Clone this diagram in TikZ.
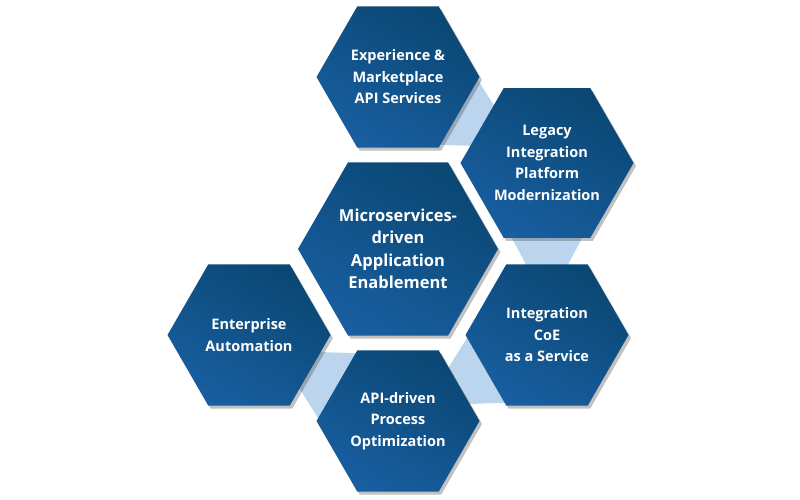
\documentclass[tikz,border=0pt]{standalone}
\usepackage{fontspec}
\setsansfont{Open Sans}
\usepackage{tikz}
\usepackage{xcolor}
\usetikzlibrary{shapes.geometric, shadows, backgrounds, calc, positioning}
\definecolor{hexTop}{HTML}{0A4773}
\definecolor{hexBottom}{HTML}{185EA0}
\definecolor{bandBlue}{HTML}{BBD5EE}
\tikzset{
  hexcell/.style={regular polygon, regular polygon sides=6, minimum size=163pt, inner sep=0pt,
    top color=hexTop, bottom color=hexBottom, shading angle=-30, draw=none, text=white, align=center,
    font=\sffamily\bfseries\fontsize{14.5}{21.5}\selectfont,
    drop shadow={shadow xshift=2.5pt, shadow yshift=-3pt, opacity=0.35, fill=black!70}},
  hexcore/.style={hexcell, minimum size=200pt, font=\sffamily\bfseries\fontsize{16.5}{22.5}\selectfont},
  band/.style={fill=bandBlue}
}

\begin{document}
\begin{tikzpicture}[x=1pt, y=1pt]
    \useasboundingbox (0, 0) rectangle (800, 500);

    \node[hexcore] (micro) at (398, 251) {Microservices-\\driven\\Application\\Enablement};

    \node[hexcell] (experience) at (398, 423) {Experience \&\\Marketplace\\API Services};
    \node[hexcell] (legacy) at (547, 337) {Legacy\\Integration\\Platform\\Modernization};
    \node[hexcell] (coe) at (547, 165) {Integration\\CoE\\as a Service};
    \node[hexcell] (process) at (398, 79) {API-driven\\Process\\Optimization};
    \node[hexcell] (enterprise) at (249, 165) {Enterprise\\Automation};

    % tapered links behind the cells
    \begin{scope}[on background layer]
        \foreach \from/\to in {experience/legacy, legacy/coe, coe/process, process/enterprise} {
            \coordinate (tip) at ($(\from)!0.82!(\to)$);
            \fill[band] (tip) -- ($(tip)!0.95!28:(\from)$) -- ($(tip)!0.95!-28:(\from)$) -- cycle;
        }
    \end{scope}
\end{tikzpicture}
\end{document}
